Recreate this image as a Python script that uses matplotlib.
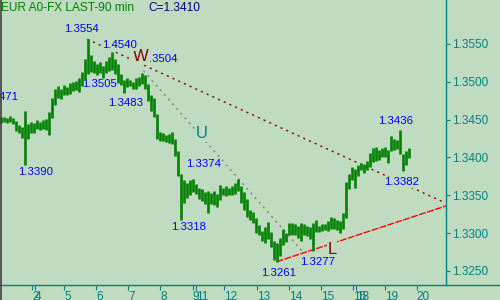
import matplotlib
matplotlib.use("Agg")
import matplotlib.pyplot as plt
from matplotlib.lines import Line2D

plt.rcParams['font.family'] = ['Liberation Sans', 'DejaVu Sans']

BG = '#C0DCC0'
TEAL = '#008080'
GREEN = '#008000'
BLUE = '#0000FF'
DARKRED = '#800000'

# ---- data (90-min bars, high / low) ----
highs = [1.3453, 1.3454, 1.3452, 1.3455, 1.3452, 1.3448, 1.3443, 1.3440, 1.3462, 1.3444,
         1.3447, 1.3446, 1.3449, 1.3447, 1.3450, 1.3451, 1.3460, 1.3478, 1.3490, 1.3494,
         1.3490, 1.3496, 1.3493, 1.3498, 1.3500, 1.3501, 1.3505, 1.3513, 1.3530, 1.3556,
         1.3536, 1.3528, 1.3524, 1.3526, 1.3521, 1.3527, 1.3533, 1.3539, 1.3530, 1.3523,
         1.3510, 1.3503, 1.3505, 1.3503, 1.3500, 1.3505, 1.3507, 1.3512, 1.3509, 1.3497,
         1.3483, 1.3478, 1.3458, 1.3434, 1.3432, 1.3430, 1.3431, 1.3434, 1.3424, 1.3408,
         1.3378, 1.3370, 1.3366, 1.3370, 1.3372, 1.3365, 1.3360, 1.3358, 1.3354, 1.3356,
         1.3353, 1.3356, 1.3352, 1.3364, 1.3360, 1.3362, 1.3360, 1.3362, 1.3366, 1.3372,
         1.3362, 1.3355, 1.3345, 1.3330, 1.3328, 1.3320, 1.3311, 1.3303, 1.3308, 1.3315,
         1.3302, 1.3290, 1.3287, 1.3293, 1.3306, 1.3300, 1.3314, 1.3313, 1.3312, 1.3309,
         1.3314, 1.3312, 1.3310, 1.3308, 1.3313, 1.3318, 1.3310, 1.3312, 1.3312, 1.3316,
         1.3322, 1.3320, 1.3317, 1.3316, 1.3326, 1.3368, 1.3378, 1.3388, 1.3385, 1.3390,
         1.3393, 1.3392, 1.3396, 1.3406, 1.3412, 1.3414, 1.3410, 1.3412, 1.3414, 1.3410,
         1.3428, 1.3425, 1.3423, 1.3436, 1.3405, 1.3408, 1.3413]
lows = [1.3446, 1.3447, 1.3446, 1.3447, 1.3444, 1.3435, 1.3432, 1.3426, 1.3390, 1.3425,
        1.3432, 1.3433, 1.3437, 1.3436, 1.3438, 1.3436, 1.3430, 1.3452, 1.3470, 1.3479,
        1.3477, 1.3482, 1.3483, 1.3484, 1.3488, 1.3489, 1.3487, 1.3494, 1.3503, 1.3510,
        1.3513, 1.3512, 1.3509, 1.3511, 1.3505, 1.3512, 1.3514, 1.3516, 1.3510, 1.3499,
        1.3496, 1.3485, 1.3493, 1.3494, 1.3490, 1.3491, 1.3495, 1.3497, 1.3490, 1.3475,
        1.3462, 1.3453, 1.3425, 1.3422, 1.3422, 1.3420, 1.3419, 1.3418, 1.3402, 1.3375,
        1.3317, 1.3340, 1.3346, 1.3351, 1.3355, 1.3352, 1.3345, 1.3343, 1.3338, 1.3327,
        1.3338, 1.3337, 1.3335, 1.3344, 1.3350, 1.3349, 1.3350, 1.3350, 1.3352, 1.3356,
        1.3340, 1.3330, 1.3321, 1.3318, 1.3313, 1.3300, 1.3297, 1.3290, 1.3287, 1.3292,
        1.3282, 1.3265, 1.3262, 1.3270, 1.3284, 1.3288, 1.3297, 1.3298, 1.3297, 1.3294,
        1.3290, 1.3298, 1.3296, 1.3292, 1.3277, 1.3302, 1.3301, 1.3303, 1.3304, 1.3303,
        1.3305, 1.3305, 1.3304, 1.3300, 1.3306, 1.3320, 1.3358, 1.3370, 1.3360, 1.3376,
        1.3383, 1.3380, 1.3383, 1.3388, 1.3394, 1.3396, 1.3397, 1.3400, 1.3400, 1.3393,
        1.3409, 1.3410, 1.3411, 1.3405, 1.3382, 1.3390, 1.3399]

day_labels = ['2', '4', '5', '6', '7', '8', '9', '11', '12', '13', '14', '15', '16', '18', '19', '20']
day_pos = [10.3, 11.1, 20.9, 31.6, 42.3, 52.9, 63.7, 64.8, 74.3, 85.1, 95.8, 106.4, 117.1, 118.2, 127.8, 138.4]

price_ticks = [1.3250, 1.3300, 1.3350, 1.3400, 1.3450, 1.3500, 1.3550]

# trend lines (bar index, price)
wline_x = [28.6, 147.8]
wline_y = [1.35562, 1.33402]
uline_x = [47.3, 100.5]
uline_y = [1.35147, 1.32751]
lline_x = [91.7, 148.4]
lline_y = [1.32622, 1.33363]

# annotations: text, bar index, price, colour
notes = [
    ('1.3554', 26.8, 1.35694, BLUE),
    ('1.4540', 39.5, 1.35486, BLUE),
    ('.3504', 53.8, 1.35301, BLUE),
    ('1.3505', 32.8, 1.34967, BLUE),
    ('1.3483', 41.5, 1.34724, BLUE),
    ('1.3390', 11.4, 1.33804, BLUE),
    ('1.3374', 67.4, 1.33914, BLUE),
    ('1.3318', 62.2, 1.33077, BLUE),
    ('1.3261', 92.5, 1.32469, BLUE),
    ('1.3277', 105.5, 1.32622, BLUE),
    ('1.3436', 131.5, 1.34486, BLUE),
    ('1.3382', 133.5, 1.33672, BLUE),
]
wave_labels = [('W', 46.5, 1.35328, DARKRED), ('U', 66.7, 1.34319, TEAL), ('L', 110.2, 1.32786, DARKRED)]

title = 'EUR A0-FX LAST-90 min'
last_close = 'C=1.3410'

# ---- figure ----
fig = plt.figure(figsize=(5, 3), dpi=100, facecolor=BG)
ax = fig.add_axes([0, 15 / 300, 446 / 500, 285 / 300], facecolor=BG)

xs = list(range(len(highs)))
ax.vlines(xs, lows, highs, color=GREEN, linewidth=1.9, zorder=3)

ax.plot(wline_x, wline_y, color=DARKRED, lw=1.0, linestyle=(0, (1.5, 3)), zorder=1)
ax.plot(uline_x, uline_y, color='#808080', lw=1.0, linestyle=(0, (1.5, 3)), zorder=1)
ax.plot(lline_x, lline_y, color='#FF0000', lw=1.0, linestyle=(0, (5, 1)), zorder=1)

box = dict(facecolor=BG, edgecolor='none', pad=0.5)
for t, x, y, c in notes:
    ax.text(x, y, t, color=c, fontsize=8.2, ha='center', va='center', bbox=box, zorder=2)
ax.text(5.4, 1.34795, '1.3471', color=BLUE, fontsize=8.2, ha='right', va='center', zorder=2)
for t, x, y, c in wave_labels:
    ax.text(x, y, t, color=c, fontsize=12, ha='center', va='center', bbox=box, zorder=1.5)

ax.set_xlim(-0.5, 148.17)
ax.set_ylim(1.32315, 1.36081)

for s in ['left', 'top', 'bottom']:
    ax.spines[s].set_visible(False)
ax.spines['right'].set_color(TEAL)
ax.spines['right'].set_linewidth(1.0)

ax.yaxis.tick_right()
ax.set_yticks(price_ticks)
ax.set_yticklabels(['%.4f' % v for v in price_ticks])
ax.tick_params(axis='y', direction='out', length=3, width=0.8, color=TEAL,
               labelcolor=TEAL, labelsize=8.5, pad=1)
ax.set_xticks(day_pos)
ax.set_xticklabels(day_labels)
ax.tick_params(axis='x', direction='out', length=3.6, width=0.8, color=TEAL,
               labelcolor=TEAL, labelsize=8.5, pad=0.5)
for lbl in ax.get_xticklabels():
    lbl.set_ha('left')

fig.add_artist(Line2D([0, 1], [15 / 300, 15 / 300], transform=fig.transFigure, color=TEAL, lw=1.0))
fig.add_artist(Line2D([0.6 / 500, 0.6 / 500], [0, 1], transform=fig.transFigure, color='#404040', lw=1.2))

fig.text(1 / 500, 1 - 8 / 300, title, color=GREEN, fontsize=8.6, ha='left', va='center')
fig.text(148 / 500, 1 - 8 / 300, last_close, color='#000080', fontsize=8.6, ha='left', va='center')

fig.savefig('out.png', dpi=100, facecolor=BG)
